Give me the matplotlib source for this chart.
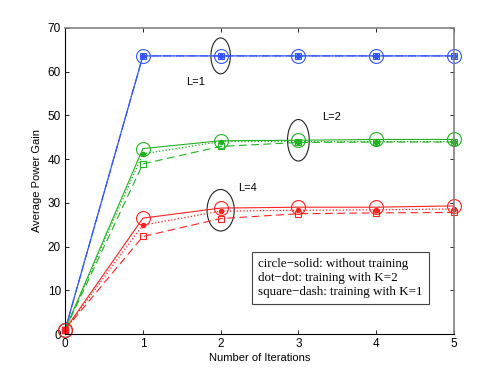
import matplotlib
matplotlib.use("Agg")
import matplotlib.pyplot as plt
from matplotlib.patches import Ellipse

iterations = [0, 1, 2, 3, 4, 5]

# L=1 (all three variants coincide)
l1_solid = [1.0, 63.6, 63.6, 63.6, 63.6, 63.6]
l1_dot = [1.0, 63.6, 63.6, 63.6, 63.6, 63.6]
l1_dash = [1.0, 63.6, 63.6, 63.6, 63.6, 63.6]

# L=2
l2_solid = [1.0, 42.4, 44.2, 44.3, 44.5, 44.5]
l2_dot = [1.0, 41.2, 44.0, 44.0, 44.0, 44.0]
l2_dash = [1.0, 38.9, 42.9, 43.8, 43.9, 43.9]

# L=4
l4_solid = [1.0, 26.5, 28.8, 29.0, 29.0, 29.3]
l4_dot = [1.0, 24.9, 28.1, 28.3, 28.4, 28.6]
l4_dash = [1.0, 22.3, 26.4, 27.5, 27.7, 27.8]

series = [
    ('#3355ff', l1_solid, l1_dot, l1_dash),
    ('#22b022', l2_solid, l2_dot, l2_dash),
    ('#ff2222', l4_solid, l4_dot, l4_dash),
]

legend_lines = [
    "circle\u2212solid: without training",
    "dot\u2212dot: training with K=2",
    "square\u2212dash: training with K=1",
]

fig = plt.figure(figsize=(5.01, 3.77), dpi=100)
ax = fig.add_axes([0.13, 0.114, 0.776, 0.812])

for color, solid, dot, dash in series:
    ax.plot(iterations, solid, '-', color=color, lw=0.8, marker='o',
            markersize=10, markerfacecolor='none', markeredgewidth=0.8,
            clip_on=False)
    ax.plot(iterations, dot, ':', color=color, lw=0.9, marker='.',
            markersize=6, clip_on=False)
    ax.plot(iterations, dash, '--', color=color, lw=0.8, marker='s',
            markersize=5, markerfacecolor='none', markeredgewidth=0.8,
            dashes=(7, 4), clip_on=False)

# red filled square at origin
ax.plot([iterations[0]], [l4_dash[0]], 's', color='#ff2222', markersize=5,
        clip_on=False)

# ellipses around selected points
ax.add_patch(Ellipse((2, 63.6), 0.25, 8.2, fill=False, ec='#222222', lw=0.8))
ax.add_patch(Ellipse((3, 44.3), 0.28, 9.5, fill=False, ec='#222222', lw=0.8))
ax.add_patch(Ellipse((2, 28.3), 0.35, 9.5, fill=False, ec='#222222', lw=0.8))

ax.text(1.55, 57.6, "L=1", fontsize=8, family='Liberation Sans', va='center')
ax.text(3.3, 49.6, "L=2", fontsize=8, family='Liberation Sans', va='center')
ax.text(2.22, 33.4, "L=4", fontsize=8, family='Liberation Sans', va='center')

ax.text(0.497, 0.118, "\n".join(legend_lines), transform=ax.transAxes,
        fontsize=9.4, family='Liberation Serif', va='bottom', ha='left',
        linespacing=1.2,
        bbox=dict(boxstyle='square,pad=0.45', fc='white', ec='#444444', lw=0.8))

ax.set_xlim(0, 5)
ax.set_ylim(0, 70)
ax.set_xticks(range(0, 6))
ax.set_yticks(range(0, 71, 10))
ax.tick_params(direction='in', top=True, right=True, labelsize=8.5, length=3,
               width=0.6, pad=3)
for lbl in ax.get_xticklabels() + ax.get_yticklabels():
    lbl.set_family('Liberation Sans')
for side in ['top', 'right']:
    ax.spines[side].set_color('#808080')
    ax.spines[side].set_linewidth(1.2)
for side in ['left', 'bottom']:
    ax.spines[side].set_linewidth(0.8)

ax.set_xlabel("Number of Iterations", fontsize=8, family='Liberation Sans',
              labelpad=2)
ax.set_ylabel("Average Power Gain", fontsize=8, family='Liberation Sans',
              labelpad=4)

fig.savefig("out.png", dpi=100)
